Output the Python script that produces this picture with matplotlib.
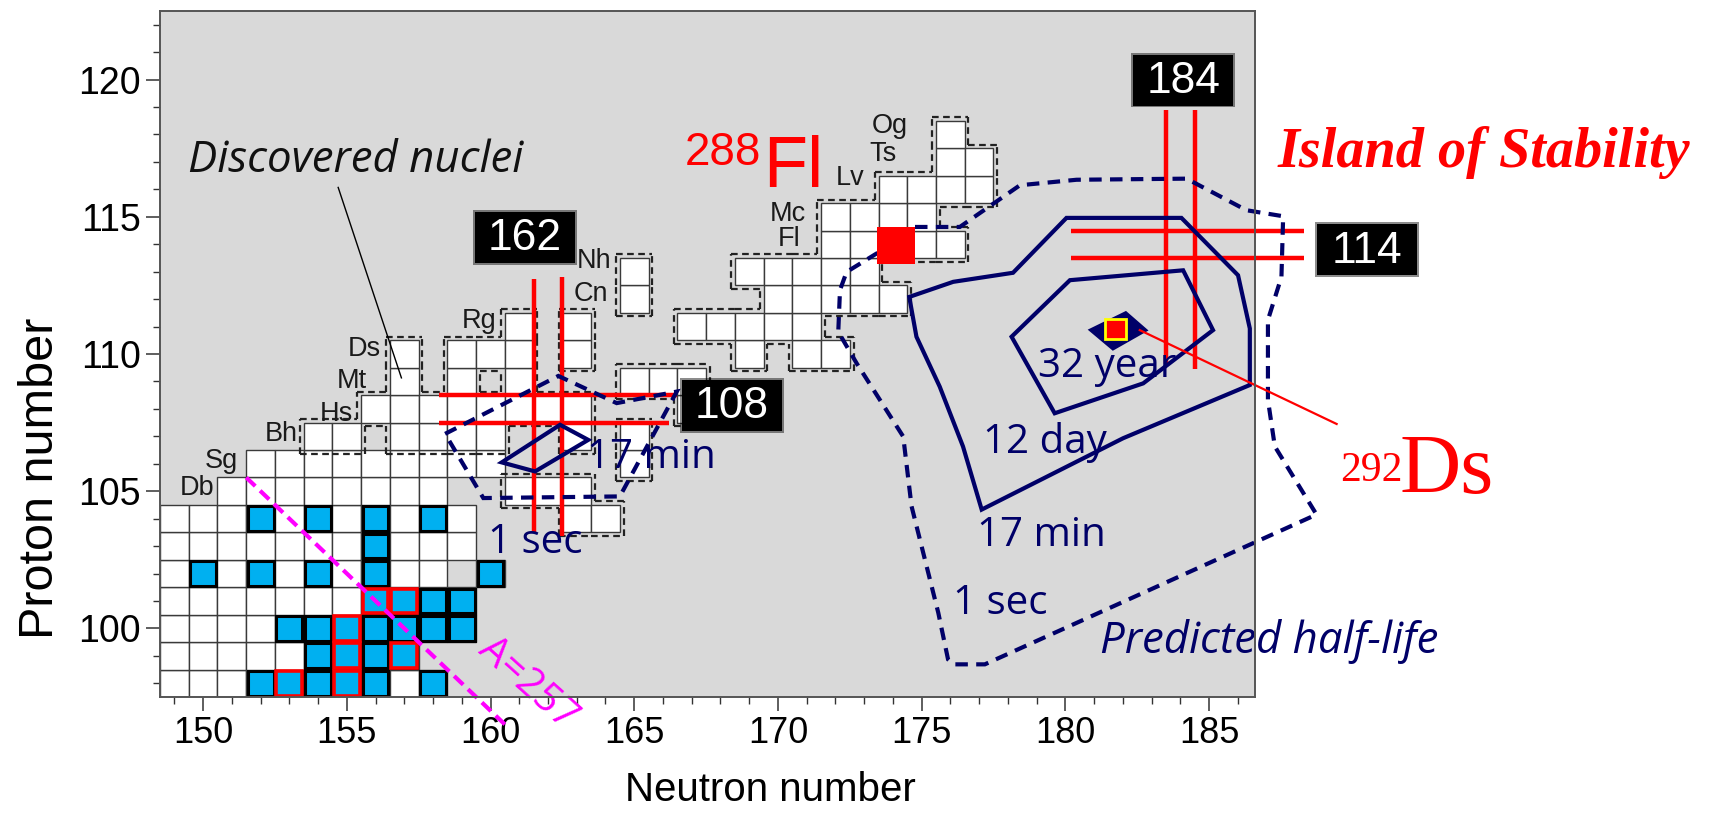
import matplotlib.pyplot as plt
from matplotlib.patches import Rectangle, Polygon
from matplotlib.collections import LineCollection

# ---- data: known nuclei (proton number -> neutron numbers) ----
Z_rows = [98, 99, 100, 101, 102, 103, 104, 105, 106,
          107, 108, 109, 110, 111, 112, 113, 114, 115, 116, 117, 118]
N_rows = [
    list(range(149, 159)),
    list(range(149, 158)),
    list(range(149, 160)),
    list(range(149, 160)),
    list(range(149, 159)) + [160],
    list(range(149, 160)),
    list(range(149, 160)) + [163, 164],
    list(range(151, 159)) + [161, 162, 163],
    list(range(152, 161)) + [165],
    [154, 155, 157, 158, 159, 160, 163, 165],
    [156, 157, 158, 159, 160, 161, 162, 163, 167],
    [157, 159, 161, 165, 166, 167],
    [157, 159, 160, 161, 163, 169, 171, 172],
    [161, 163, 167, 168, 169, 170, 171],
    [165, 170, 171, 172, 173, 174],
    [165, 169, 170, 171, 172, 173],
    [172, 173, 174, 175, 176],
    [172, 173, 174, 175],
    [174, 175, 176, 177],
    [176, 177],
    [176],
]
# highlighted nuclei
blue_N = [152, 154, 156, 158, 156, 150, 152, 154, 156, 160, 156, 157, 158, 159,
          153, 154, 155, 156, 157, 158, 159, 154, 155, 156, 157,
          152, 153, 154, 155, 156, 158]
blue_Z = [104, 104, 104, 104, 103, 102, 102, 102, 102, 102, 101, 101, 101, 101,
          100, 100, 100, 100, 100, 100, 100, 99, 99, 99, 99,
          98, 98, 98, 98, 98, 98]
red_edge_N = [153, 155, 155, 157, 155, 156, 157]
red_edge_Z = [98, 98, 99, 99, 100, 101, 101]

# predicted half-life contours near N=162
c17min_a_N = [160.39, 162.42, 163.40, 161.55]
c17min_a_Z = [106.05, 107.42, 106.87, 105.72]
c1sec_a_N = [158.42, 162.36, 164.39, 166.48, 164.50, 159.75]
c1sec_a_Z = [107.09, 109.20, 108.21, 108.63, 104.81, 104.75]
# island of stability contours
c32y_N = [180.91, 182.10, 182.77, 181.66]
c32y_Z = [110.87, 111.48, 110.87, 110.21]
c12d_N = [178.13, 180.16, 184.10, 185.14, 182.71, 179.63]
c12d_Z = [110.63, 112.69, 113.05, 110.87, 108.93, 107.84]
c17m_N = [174.57, 176.10, 178.18, 180.04, 184.04, 186.01, 186.42, 186.42,
          182.01, 177.09, 176.44, 175.63, 174.82]
c17m_Z = [112.08, 112.63, 112.96, 114.96, 114.96, 112.87, 110.93, 108.87,
          106.93, 104.33, 106.63, 108.81, 110.63]
c1s_N = [174.77, 176.33, 178.42, 180.39, 184.22, 186.30, 187.58, 187.52, 187.05,
         187.05, 187.29, 188.74, 177.20, 176.10, 175.92, 175.58, 174.65, 174.36,
         172.74, 172.10, 172.16, 172.39, 173.43, 174.10]
c1s_Z = [114.63, 114.63, 116.15, 116.35, 116.39, 115.24, 115.02, 112.81, 111.24,
         108.33, 106.63, 104.15, 98.69, 98.69, 98.87, 100.57, 104.45, 106.99,
         109.66, 110.81, 112.33, 112.99, 113.66, 113.90]

x_ticks = [150, 155, 160, 165, 170, 175, 180, 185]
y_ticks = [100, 105, 110, 115, 120]

elements = ['Db', 'Sg', 'Bh', 'Hs', 'Mt', 'Ds', 'Rg', 'Cn', 'Nh']
elem_pos = [(150.4, 105.1), (151.2, 106.1), (153.3, 107.1), (155.2, 107.8),
            (155.7, 109.0), (156.2, 110.2), (160.2, 111.2), (164.1, 112.2),
            (164.2, 113.4)]
elements2 = ['Fl', 'Mc', 'Lv', 'Ts', 'Og']
elem2_pos = [(170.4, 114.2), (170.35, 115.1), (172.5, 116.4), (173.65, 117.3),
             (173.9, 118.3)]

navy = '#000068'
red = '#ff0000'

fig = plt.figure(figsize=(17.25, 8.13), dpi=100)
ax = fig.add_axes([160 / 1725, 1 - 697 / 813, 1095 / 1725, 686 / 813])
ax.set_facecolor('#d9d9d9')
ax.set_xlim(148.5, 186.6)
ax.set_ylim(97.5, 122.5)

# cells
cells = []
for z, ns in zip(Z_rows, N_rows):
    for n in ns:
        cells.append((n, z))
        ax.add_patch(Rectangle((n - 0.5, z - 0.5), 1, 1, fc='white',
                               ec='#3a3a3a', lw=1.0, zorder=2))
for n, z in zip(blue_N, blue_Z):
    ax.add_patch(Rectangle((n - 0.45, z - 0.45), 0.9, 0.9, fc='#00b0f0',
                           ec='black', lw=2.2, zorder=3))
for n, z in zip(red_edge_N, red_edge_Z):
    ax.add_patch(Rectangle((n - 0.45, z - 0.45), 0.9, 0.9, fc='#00b0f0',
                           ec=red, lw=2.6, zorder=4))

# dashed outline around the heavy-element region
S = set(c for c in cells if c[1] >= 107 or c[0] >= 161)
d = 0.13
segs = []
sides = [((0, 1), (1, 0)), ((0, -1), (1, 0)), ((-1, 0), (0, 1)), ((1, 0), (0, 1))]
for (n, z) in S:
    for (nx, nz), (tx, tz) in sides:
        if (n + nx, z + nz) in S:
            continue
        cx, cz = n + nx * 0.5, z + nz * 0.5
        offs = []
        for sgn in (-1, 1):
            a = (n + sgn * tx, z + sgn * tz)
            b = (n + sgn * tx + nx, z + sgn * tz + nz)
            if b in S:
                offs.append(0.5 - d)
            elif a in S:
                offs.append(0.5)
            else:
                offs.append(0.5 + d)
        p0 = (cx + nx * d - tx * offs[0], cz + nz * d - tz * offs[0])
        p1 = (cx + nx * d + tx * offs[1], cz + nz * d + tz * offs[1])
        segs.append([p0, p1])
ax.add_collection(LineCollection(segs, colors='#222222', lw=1.6,
                                 linestyles=[(0, (3, 2))], zorder=5))

# element labels
for s, (x, y) in zip(elements, elem_pos):
    ax.text(x, y, s, ha='right', va='center', fontsize=19.5,
            family='Liberation Sans', color='#1a1a1a', zorder=6)
for s, (x, y) in zip(elements2, elem2_pos):
    ax.text(x, y, s, ha='center', va='center', fontsize=19.5,
            family='Liberation Sans', color='#1a1a1a', zorder=6)

# A=257 line
ax.plot([151.5, 160.6], [105.5, 96.4], color='#ff00ff', lw=3,
        ls=(0, (3, 1.6)), zorder=7, clip_on=False)
ax.text(161.3, 98.0, 'A=257', rotation=-42, color='#ff00ff', fontsize=29,
        family='Open Sans', ha='center', va='center', zorder=7)

# magic number lines
lk = dict(color=red, lw=3.2, zorder=8, clip_on=False, solid_capstyle='butt')
ax.plot([161.5, 161.5], [103.5, 112.75], **lk)
ax.plot([162.5, 162.5], [103.35, 112.8], **lk)
ax.plot([158.2, 166.5], [108.5, 108.5], **lk)
ax.plot([158.2, 166.2], [107.5, 107.5], **lk)
ax.plot([183.5, 183.5], [109.65, 118.9], **lk)
ax.plot([184.5, 184.5], [109.45, 118.9], **lk)
ax.plot([180.2, 188.3], [114.5, 114.5], **lk)
ax.plot([180.2, 188.3], [113.5, 113.5], **lk)

# contours
def contour(xs, ys, ls, fill=False):
    ax.add_patch(Polygon(list(zip(xs, ys)), closed=True, fill=fill,
                         fc=navy, ec=navy, lw=3, ls=ls, zorder=9,
                         clip_on=False, joinstyle='miter'))

contour(c1sec_a_N, c1sec_a_Z, (0, (3, 2)))
contour(c17min_a_N, c17min_a_Z, '-')
contour(c1s_N, c1s_Z, (0, (3, 2)))
contour(c17m_N, c17m_Z, '-')
contour(c12d_N, c12d_Z, '-')
contour(c32y_N, c32y_Z, '-', fill=True)

# 288Fl and 292Ds markers
ax.add_patch(Rectangle((174.1 - 0.66, 113.95 - 0.68), 1.32, 1.36, fc=red,
                       ec='none', zorder=10))
ax.add_patch(Rectangle((181.75 - 0.36, 110.9 - 0.37), 0.72, 0.74, fc=red,
                       ec='#ffff00', lw=2, zorder=11))

# contour labels
tk = dict(color=navy, fontsize=29, family='Open Sans', zorder=12)
ax.text(163.35, 105.85, '17 min', ha='left', va='baseline', **tk)
ax.text(159.9, 102.76, '1 sec', ha='left', va='baseline', **tk)
ax.text(179.05, 109.17, '32 year', ha='left', va='baseline', **tk)
ax.text(177.13, 106.4, '12 day', ha='left', va='baseline', **tk)
ax.text(176.91, 102.99, '17 min', ha='left', va='baseline', **tk)
ax.text(176.1, 100.51, '1 sec', ha='left', va='baseline', **tk)
ax.text(181.2, 99.12, 'Predicted half-life', ha='left', va='baseline',
        style='italic', color=navy, fontsize=31.5, family='Open Sans',
        zorder=12)
ax.text(155.3, 117.05, 'Discovered nuclei', ha='center', va='center',
        fontsize=31.5, family='Open Sans', style='italic', color='#111111',
        zorder=12)
ax.plot([154.7, 156.9], [116.07, 109.13], color='black', lw=1, zorder=12)

# red annotations
ax.text(166.77, 116.87, '288', color=red, fontsize=33,
        family='Liberation Sans', va='baseline', zorder=12)
ax.text(169.48, 116.07, 'Fl', color=red, fontsize=52,
        family='Liberation Sans', va='baseline', zorder=12)
ax.plot([182.59, 189.44], [110.87, 107.45], color=red, lw=1.6, zorder=12,
        clip_on=False)
ax.text(189.55, 105.38, '292', color=red, fontsize=30,
        family='Liberation Serif', va='baseline', zorder=12)
ax.text(191.63, 104.95, 'Ds', color=red, fontsize=61,
        family='Liberation Serif', va='baseline', zorder=12)
ax.text(194.56, 116.8, 'Island of Stability', color=red, fontsize=40.5,
        family='Liberation Serif', weight='bold', style='italic',
        ha='center', va='baseline', zorder=12)

# magic number boxes
def magic_box(x, y, s):
    w, h = 3.5, 1.85
    g = 0.07
    ax.add_patch(Rectangle((x - w / 2 - g, y - h / 2 - g), w + 2 * g,
                           h + 2 * g, fc='black', ec='none', alpha=0.45,
                           zorder=13, clip_on=False))
    ax.add_patch(Rectangle((x - w / 2, y - h / 2), w, h, fc='black',
                           ec='none', zorder=13, clip_on=False))
    ax.text(x, y - 0.05, s, color='white', fontsize=32,
            family='Liberation Sans', ha='center', va='center', zorder=14)

magic_box(161.2, 114.25, '162')
magic_box(168.4, 108.13, '108')
magic_box(184.1, 119.98, '184')
magic_box(190.5, 113.8, '114')

# axes styling
ax.set_xticks(x_ticks, [str(v) for v in x_ticks], fontsize=26,
              family='Liberation Sans')
ax.set_xticks(range(149, 187), minor=True)
ax.set_yticks(y_ticks, [str(v) for v in y_ticks], fontsize=27,
              family='Liberation Sans')
ax.set_yticks(range(98, 123), minor=True)
ax.tick_params(which='major', direction='out', length=10, width=1.1,
               color='#333333', pad=4)
ax.tick_params(which='minor', direction='out', length=5, width=1.0,
               color='#333333')
for sp in ax.spines.values():
    sp.set_color('#555555')
    sp.set_linewidth(1.4)
    sp.set_zorder(20)

fig.text(41 / 1725, 1 - 478 / 813, 'Proton number', rotation=90,
         ha='center', va='center', fontsize=35, family='Liberation Sans')
fig.text(770 / 1725, 1 - 790 / 813, 'Neutron number', ha='center',
         va='center', fontsize=29, family='Liberation Sans')

fig.savefig('out.png', dpi=100)
